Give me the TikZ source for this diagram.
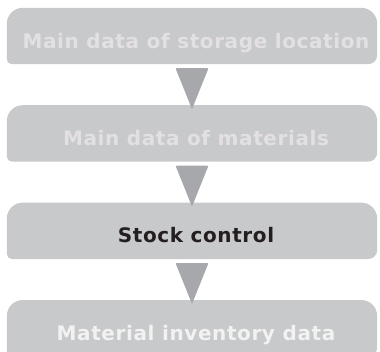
\documentclass[tikz,border=0pt]{standalone}
\usepackage{fontspec}
\setmainfont{DejaVu Sans}[LetterSpace=3]
\usetikzlibrary{positioning, calc, backgrounds}
\definecolor{boxgray}{HTML}{C8C9CB}
\definecolor{arrowgray}{HTML}{A7A8AB}
\definecolor{fadedtext}{HTML}{E2E0E2}
\definecolor{darktext}{HTML}{231F20}

\begin{document}
\begin{tikzpicture}[x=1pt, y=1pt, node distance=41pt,
        stage/.style={minimum width=370pt, minimum height=56pt, inner sep=0pt,
            text height=24pt, text depth=0pt,
            font=\fontsize{20}{24}\selectfont\bfseries, execute at begin node=\kern8pt}]
        \useasboundingbox (0, 0) rectangle (380, -351);
        \clip (0, 0) rectangle (380, -351);
        \node[stage, text=fadedtext] (storage) at (192, -36) {Main data of storage location};
        \node[stage, text=fadedtext, below = of storage] (materials) {Main data of materials};
        \node[stage, text=darktext, below = of materials] (stock) {Stock control};
        \node[stage, text=white!95!black, below = of stock] (inventory) {Material inventory data};
        \begin{scope}[on background layer]
            \foreach \b in {storage, materials, stock, inventory}
                \fill[boxgray] (\b.south west) [rounded corners=16pt] -- (\b.north west)
                    -- (\b.north east) [rounded corners=9pt] -- (\b.south east)
                    [rounded corners=5pt] -- cycle;
        \end{scope}
        \foreach \a/\b in {storage/materials, materials/stock, stock/inventory}
            \fill[arrowgray, rounded corners=1pt] ($(\a.south)+(-16.5, -4)$) -- ($(\a.south)+(16.5, -4)$)
                -- ($(\b.north)+(0, -4)$) -- cycle;
    \end{tikzpicture}
\end{document}
